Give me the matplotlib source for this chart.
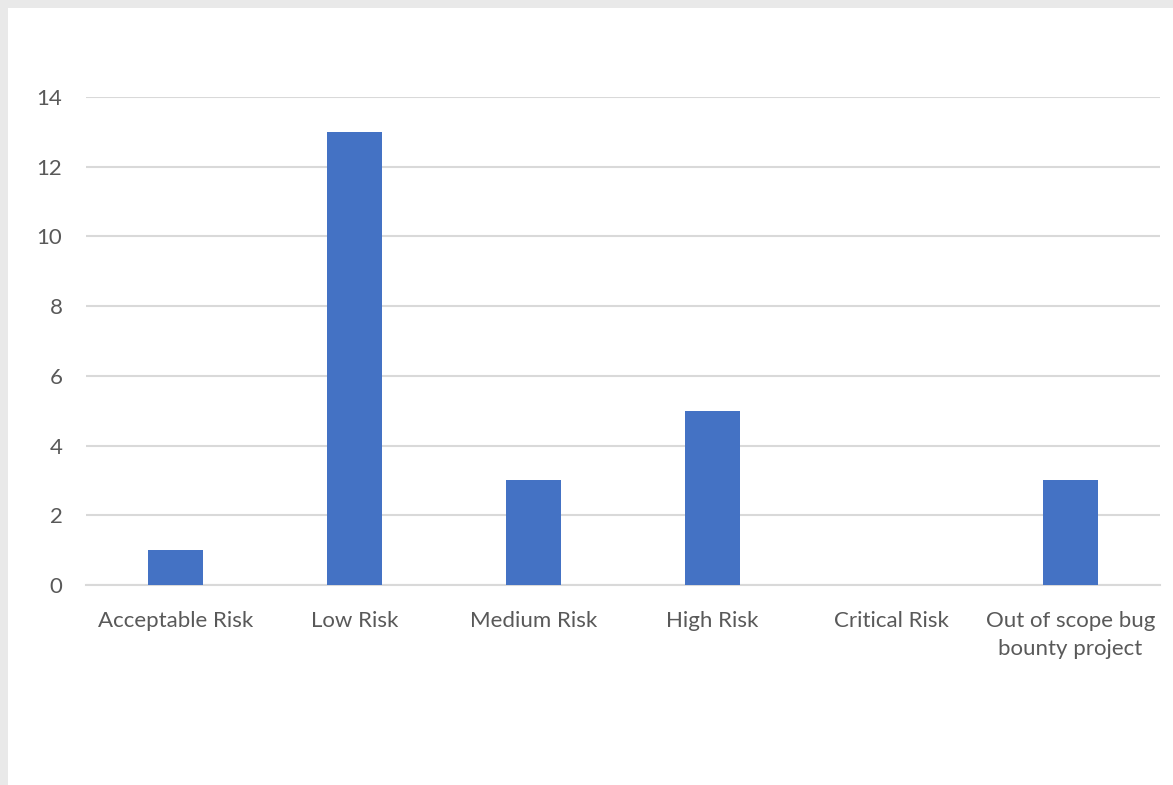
import matplotlib.pyplot as plt
from matplotlib.patches import Rectangle

categories = ['Acceptable Risk', 'Low Risk', 'Medium Risk', 'High Risk',
              'Critical Risk', 'Out of scope bug\nbounty project']
counts = [1, 13, 3, 5, 0, 3]
y_ticks = [0, 2, 4, 6, 8, 10, 12, 14]

W, H = 1173, 785
fig = plt.figure(figsize=(W / 100, H / 100), dpi=100)
fig.patch.set_facecolor('white')

# thin grey frame of the screenshot on the top and left edges
fig.patches.append(Rectangle((0, 0), 8 / W, 1, transform=fig.transFigure,
                             facecolor='#e9e9e9', edgecolor='none', zorder=-1))
fig.patches.append(Rectangle((0, 1 - 8 / H), 1, 8 / H, transform=fig.transFigure,
                             facecolor='#e9e9e9', edgecolor='none', zorder=-1))

ax = fig.add_axes([86 / W, 1 - 585 / H, (1160 - 86) / W, (585 - 97) / H])
ax.set_facecolor('none')

x = range(len(categories))
ax.bar(x, counts, width=0.31, color='#4472C4', zorder=3)

ax.set_ylim(0, 14)
ax.set_xlim(-0.5, len(categories) - 0.5)
ax.set_yticks(y_ticks)
ax.yaxis.grid(True, color='#d9d9d9', linewidth=1.5, zorder=0)
ax.set_axisbelow(True)

for s in ['top', 'right', 'left']:
    ax.spines[s].set_visible(False)
ax.spines['bottom'].set_color('#d9d9d9')
ax.spines['bottom'].set_linewidth(1.5)

ax.set_xticks(list(x))
ax.set_xticklabels(categories, fontsize=16, color='#595959', family='Lato',
                   linespacing=1.55)
ax.tick_params(axis='x', length=0, pad=18.5)
ax.tick_params(axis='y', length=0, pad=17, labelsize=16, labelcolor='#595959')
for lbl in ax.get_yticklabels():
    lbl.set_family('Lato')

fig.savefig('out.png', dpi=100, facecolor=fig.get_facecolor())
